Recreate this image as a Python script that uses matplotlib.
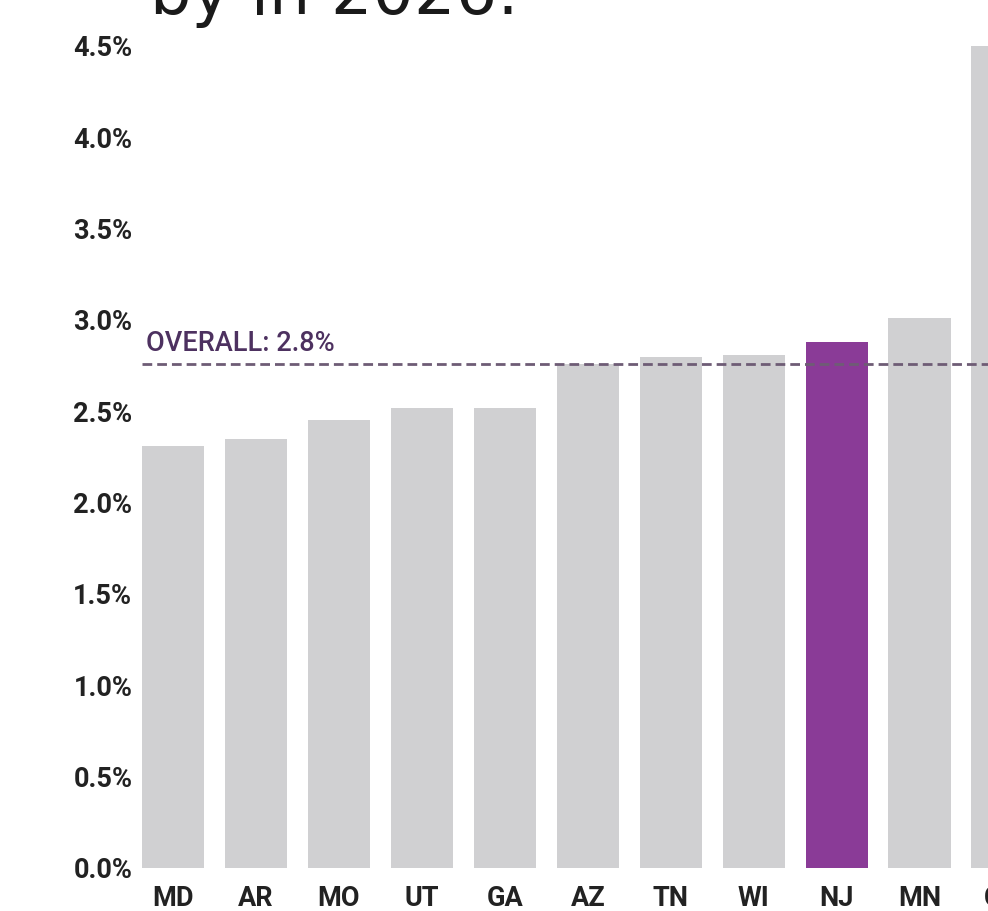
import matplotlib
matplotlib.use("Agg")
import matplotlib.pyplot as plt
import matplotlib.transforms as mtransforms

# data
states = ["MD", "AR", "MO", "UT", "GA", "AZ", "TN", "WI", "NJ", "MN", "CO"]
values = [2.31, 2.35, 2.45, 2.52, 2.52, 2.76, 2.80, 2.81, 2.88, 3.01, 4.55]
highlight = "NJ"
overall = 2.76
overall_label = "OVERALL: 2.8%"
yticks = [0.0, 0.5, 1.0, 1.5, 2.0, 2.5, 3.0, 3.5, 4.0, 4.5]

lab_font = ["Roboto", "DejaVu Sans"]
gray = "#d0d0d2"
purple = "#8a3b97"

fig = plt.figure(figsize=(9.88, 9.11), dpi=100)
ax = fig.add_axes([142/988, 1 - 868/911, 1 - 142/988, (868 - 46)/911])

colors = [purple if s == highlight else gray for s in states]
ax.bar(range(len(states)), values, width=0.75, color=colors, zorder=2)

ax.axhline(overall, color="#6e5c75", lw=2, dashes=(3.5, 1.8), zorder=3)
ax.text(-0.33, 2.83, overall_label, color="#4d3160", fontsize=19.5,
        family=lab_font, fontweight="medium", va="baseline", ha="left")

ax.set_yticks(yticks)
ax.set_yticklabels([f"{t:.1f}%" for t in yticks], family=lab_font,
                   fontweight="bold", fontsize=19.5, color="#222222")
ax.set_xticks(range(len(states)))
ax.set_xticklabels(states, family=lab_font, fontweight="bold", fontsize=19.5,
                   color="#222222")
# limits after ticks so the cut-off last bar stays cut off
ax.set_xlim(-0.375, 9.825)
ax.set_ylim(0, 4.5)
ax.tick_params(length=0)
ax.tick_params(axis="y", pad=7)
ax.tick_params(axis="x", pad=12)
for sp in ax.spines.values():
    sp.set_visible(False)

# the last label sits outside the x-limits, draw it by hand
trans = mtransforms.blended_transform_factory(ax.transData, ax.transAxes)
ax.text(len(states) - 1, 0, states[-1], transform=trans, family=lab_font,
        fontweight="bold", fontsize=19.5, color="#222222", ha="center",
        va="top", clip_on=False,
        transform_rotates_text=False).set_transform(
    trans + mtransforms.ScaledTranslation(0, -12/72, fig.dpi_scale_trans))

# title cut off by the crop
fig.text(150/988, 1 - 14/911, "by in 2026:", fontsize=47, color="#1a1a1a",
         family="DejaVu Sans", fontweight="medium", va="baseline", ha="left")

fig.savefig("out.png", dpi=100)
